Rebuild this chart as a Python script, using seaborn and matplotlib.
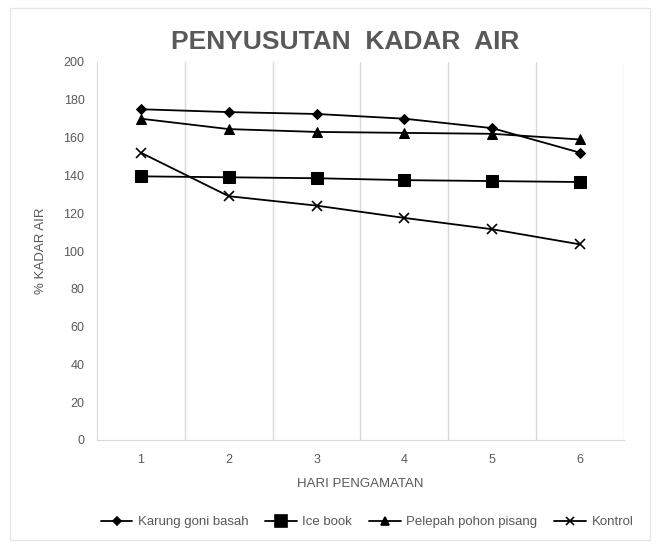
import pandas as pd
import numpy as np
import seaborn as sns
import matplotlib.pyplot as plt
from matplotlib.patches import Rectangle

# data
hari = [1, 2, 3, 4, 5, 6]
karung_goni_basah = [175, 173.5, 172.5, 170, 165, 152]
ice_book = [139.5, 139, 138.5, 137.5, 137, 136.5]
pelepah_pohon_pisang = [170, 164.5, 163, 162.5, 162, 159]
kontrol = [152, 129, 124, 117.5, 111.5, 103.5]

seri = ['Karung goni basah', 'Ice book', 'Pelepah pohon pisang', 'Kontrol']
nilai = [karung_goni_basah, ice_book, pelepah_pohon_pisang, kontrol]

df = pd.DataFrame({
    'hari': np.tile(hari, len(seri)),
    'kadar': np.concatenate(nilai),
    'seri': np.repeat(seri, len(hari)),
})

sns.set_style('white')
plt.rcParams['font.family'] = ['Liberation Sans', 'DejaVu Sans']
abu = '#595959'

fig = plt.figure(figsize=(6.6, 5.48), dpi=100)
ax = fig.add_axes([97 / 660, 1 - 440 / 548, (624 - 97) / 660, (440 - 62) / 548])

marker_map = {'Karung goni basah': 'D', 'Ice book': 's',
              'Pelepah pohon pisang': '^', 'Kontrol': 'X'}
sns.lineplot(data=df, x='hari', y='kadar', hue='seri', style='seri',
             palette=['black'] * 4, markers=marker_map, dashes=False,
             linewidth=1.3, ax=ax, legend=False)

# marker sizes per series
sizes = {'D': 5.5, 's': 9, '^': 7, 'X': 7}
for line, s in zip(ax.lines, seri):
    m = marker_map[s]
    if m == 'X':
        line.set_marker('x')
        line.set_markeredgewidth(1.2)
    line.set_markersize(sizes[m])
    line.set_markerfacecolor('black')
    line.set_markeredgecolor('black')

ax.set_xlim(0.5, 6.5)
ax.set_ylim(0, 200)
ax.set_xticks(hari)
ax.set_yticks(range(0, 201, 20))
ax.set_xticks(np.arange(1.5, 6.6, 1), minor=True)
ax.grid(False)
ax.grid(True, which='minor', axis='x', color='#d9d9d9', linewidth=1)
ax.tick_params(axis='x', which='both', length=0, labelsize=9, labelcolor=abu, pad=10)
ax.tick_params(axis='y', length=3, color='#bfbfbf', labelsize=9, labelcolor=abu, pad=6)

for side in ['top', 'right']:
    ax.spines[side].set_visible(False)
ax.spines['left'].set_color('#d9d9d9')
ax.spines['bottom'].set_color('#d9d9d9')

ax.set_xlabel('HARI PENGAMATAN', fontsize=9.5, color=abu, labelpad=9)
ax.set_ylabel('% KADAR AIR', fontsize=9.5, color=abu, labelpad=12)

fig.text(345 / 660, 1 - 42 / 548, 'PENYUSUTAN  KADAR  AIR', ha='center', va='center',
         fontsize=19, fontweight='bold', color=abu)

# legend
handles = []
for s in seri:
    m = 'x' if marker_map[s] == 'X' else marker_map[s]
    h, = ax.plot([], [], color='black', marker=m, markersize=sizes[marker_map[s]] - 1,
                 linewidth=1.3, markeredgewidth=1.2)
    handles.append(h)
fig.legend(handles, seri, loc='center', bbox_to_anchor=(367 / 660, 1 - 522 / 548), ncol=4,
           frameon=False, fontsize=9.5, labelcolor=abu, handlelength=2.4,
           handletextpad=0.4, columnspacing=1.3)

# chart border
fig.patches.append(Rectangle((10 / 660, 8 / 548), 640 / 660, 532 / 548, transform=fig.transFigure,
                             fill=False, edgecolor='#e6e6e6', linewidth=1))

fig.savefig('out.png', dpi=100)
